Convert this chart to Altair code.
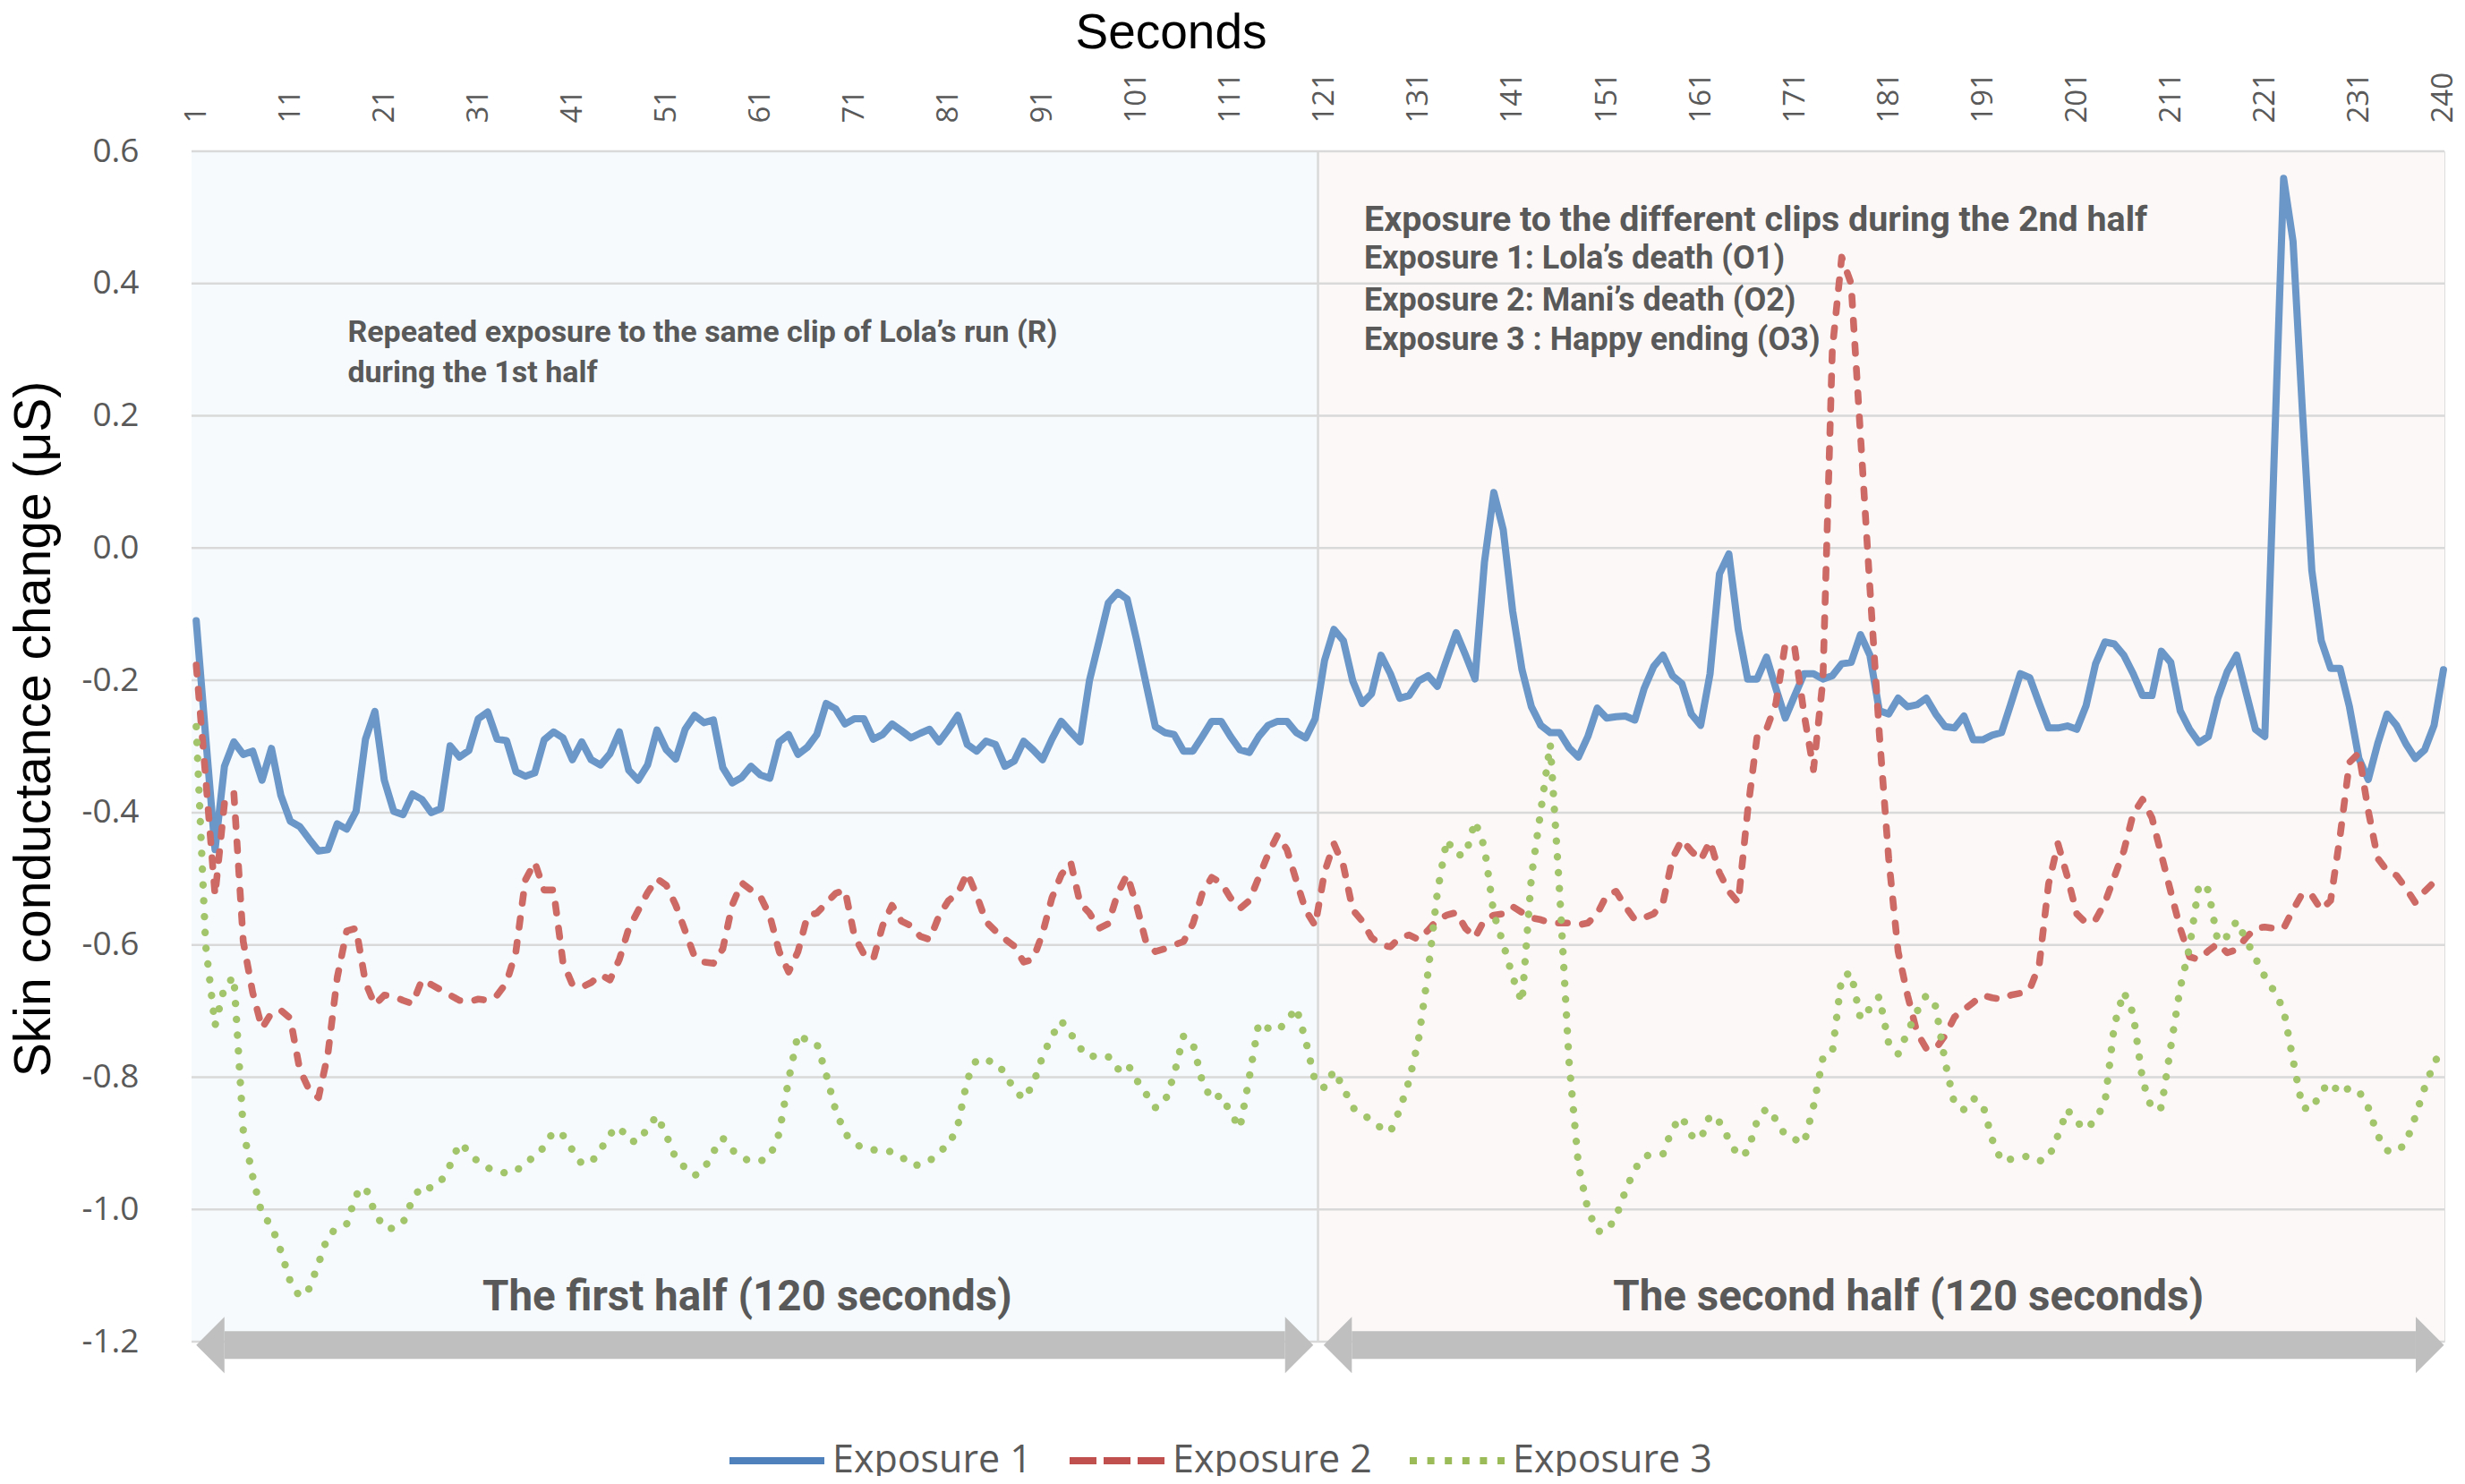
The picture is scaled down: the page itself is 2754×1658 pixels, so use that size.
import altair as alt
import pandas as pd

# ---------------- data ----------------
seconds = list(range(1, 241))

exposure_1 = [
    -0.11, -0.285, -0.456, -0.33, -0.293, -0.312, -0.307, -0.351, -0.303, -0.374,
    -0.413, -0.421, -0.44, -0.458, -0.456, -0.417, -0.425, -0.398, -0.289, -0.247,
    -0.351, -0.398, -0.403, -0.372, -0.38, -0.4, -0.394, -0.299, -0.316, -0.306,
    -0.258, -0.248, -0.289, -0.291, -0.338, -0.345, -0.34, -0.29, -0.278, -0.287,
    -0.32, -0.293, -0.32, -0.328, -0.311, -0.278, -0.336, -0.351, -0.328, -0.275,
    -0.305, -0.319, -0.274, -0.253, -0.264, -0.26, -0.332, -0.355, -0.347, -0.33,
    -0.343, -0.348, -0.293, -0.282, -0.312, -0.301, -0.282, -0.235, -0.243, -0.266,
    -0.258, -0.258, -0.289, -0.282, -0.266, -0.276, -0.287, -0.28, -0.274, -0.293,
    -0.274, -0.253, -0.297, -0.307, -0.292, -0.297, -0.33, -0.322, -0.292, -0.305,
    -0.32, -0.289, -0.262, -0.278, -0.293, -0.2, -0.142, -0.083, -0.067, -0.077,
    -0.138, -0.204, -0.27, -0.279, -0.282, -0.307, -0.307, -0.285, -0.262, -0.262,
    -0.285, -0.305, -0.309, -0.285, -0.268, -0.262, -0.262, -0.279, -0.287, -0.258,
    -0.17, -0.123, -0.14, -0.201, -0.235, -0.22, -0.162, -0.19, -0.227, -0.223,
    -0.201, -0.193, -0.209, -0.168, -0.128, -0.162, -0.198, -0.022, 0.084, 0.028,
    -0.095, -0.184, -0.24, -0.268, -0.279, -0.279, -0.302, -0.316, -0.285, -0.242,
    -0.257, -0.255, -0.254, -0.26, -0.212, -0.179, -0.162, -0.193, -0.205, -0.251,
    -0.268, -0.19, -0.039, -0.009, -0.123, -0.198, -0.198, -0.165, -0.212, -0.257,
    -0.223, -0.19, -0.19, -0.198, -0.193, -0.175, -0.173, -0.131, -0.162, -0.246,
    -0.251, -0.227, -0.24, -0.237, -0.227, -0.251, -0.27, -0.272, -0.254, -0.29,
    -0.29, -0.283, -0.279, -0.235, -0.19, -0.196, -0.235, -0.272, -0.272, -0.269,
    -0.274, -0.238, -0.175, -0.142, -0.145, -0.162, -0.19, -0.223, -0.223, -0.156,
    -0.173, -0.246, -0.274, -0.294, -0.285, -0.227, -0.187, -0.162, -0.218, -0.274,
    -0.285, 0.14, 0.559, 0.464, 0.207, -0.034, -0.14, -0.182, -0.182, -0.24,
    -0.318, -0.35, -0.296, -0.251, -0.268, -0.296, -0.318, -0.305, -0.268, -0.184,
]

exposure_2 = [
    -0.177, -0.347, -0.525, -0.386, -0.37, -0.595, -0.672, -0.726, -0.703, -0.699,
    -0.711, -0.788, -0.819, -0.831, -0.765, -0.649, -0.579, -0.575, -0.657, -0.691,
    -0.676, -0.678, -0.684, -0.689, -0.653, -0.66, -0.668, -0.676, -0.684, -0.686,
    -0.682, -0.684, -0.676, -0.657, -0.61, -0.502, -0.475, -0.517, -0.517, -0.626,
    -0.66, -0.664, -0.657, -0.645, -0.653, -0.622, -0.575, -0.548, -0.521, -0.5,
    -0.51, -0.54, -0.579, -0.618, -0.626, -0.628, -0.606, -0.54, -0.506, -0.517,
    -0.527, -0.556, -0.61, -0.641, -0.61, -0.556, -0.552, -0.537, -0.522, -0.517,
    -0.587, -0.614, -0.622, -0.571, -0.54, -0.564, -0.571, -0.587, -0.592, -0.556,
    -0.533, -0.522, -0.491, -0.525, -0.565, -0.579, -0.591, -0.602, -0.626, -0.622,
    -0.583, -0.529, -0.494, -0.475, -0.537, -0.552, -0.575, -0.568, -0.522, -0.494,
    -0.54, -0.595, -0.61, -0.606, -0.6, -0.595, -0.568, -0.522, -0.498, -0.506,
    -0.529, -0.545, -0.533, -0.498, -0.463, -0.434, -0.456, -0.503, -0.548, -0.571,
    -0.49, -0.447, -0.48, -0.547, -0.564, -0.589, -0.6, -0.603, -0.589, -0.585,
    -0.592, -0.578, -0.562, -0.555, -0.551, -0.575, -0.589, -0.562, -0.555, -0.553,
    -0.542, -0.551, -0.559, -0.562, -0.567, -0.567, -0.567, -0.57, -0.567, -0.553,
    -0.525, -0.519, -0.542, -0.562, -0.559, -0.553, -0.536, -0.469, -0.441, -0.458,
    -0.472, -0.443, -0.491, -0.519, -0.536, -0.397, -0.285, -0.274, -0.235, -0.145,
    -0.151, -0.251, -0.335, -0.2, 0.3, 0.44, 0.40, 0.17, -0.06, -0.28,
    -0.47, -0.61, -0.676, -0.732, -0.757, -0.757, -0.737, -0.709, -0.698, -0.687,
    -0.676, -0.68, -0.682, -0.676, -0.673, -0.667, -0.631, -0.508, -0.447, -0.497,
    -0.553, -0.567, -0.562, -0.536, -0.497, -0.458, -0.402, -0.38, -0.408, -0.464,
    -0.52, -0.575, -0.618, -0.622, -0.609, -0.598, -0.612, -0.607, -0.589, -0.575,
    -0.573, -0.575, -0.575, -0.547, -0.522, -0.525, -0.547, -0.533, -0.436, -0.324,
    -0.31, -0.397, -0.469, -0.488, -0.495, -0.514, -0.536, -0.519, -0.505, -0.502,
]

exposure_3 = [
    -0.27, -0.60, -0.722, -0.664, -0.648, -0.88, -0.95, -1.008, -1.024, -1.063,
    -1.109, -1.132, -1.12, -1.082, -1.04, -1.028, -1.022, -0.978, -0.966, -1.005,
    -1.028, -1.029, -1.02, -0.985, -0.964, -0.968, -0.958, -0.933, -0.9, -0.912,
    -0.929, -0.937, -0.943, -0.945, -0.943, -0.927, -0.922, -0.905, -0.882, -0.888,
    -0.91, -0.931, -0.929, -0.91, -0.886, -0.875, -0.896, -0.898, -0.877, -0.858,
    -0.888, -0.923, -0.937, -0.949, -0.939, -0.913, -0.892, -0.91, -0.922, -0.927,
    -0.927, -0.92, -0.885, -0.804, -0.735, -0.745, -0.749, -0.796, -0.85, -0.885,
    -0.9, -0.908, -0.91, -0.91, -0.913, -0.92, -0.933, -0.933, -0.927, -0.912,
    -0.904, -0.873, -0.804, -0.773, -0.775, -0.777, -0.794, -0.819, -0.833, -0.811,
    -0.769, -0.738, -0.715, -0.734, -0.756, -0.77, -0.766, -0.769, -0.788, -0.779,
    -0.804, -0.825, -0.846, -0.838, -0.796, -0.738, -0.749, -0.807, -0.834, -0.827,
    -0.854, -0.877, -0.8, -0.718, -0.726, -0.73, -0.715, -0.695, -0.745, -0.807,
    -0.816, -0.79, -0.816, -0.846, -0.857, -0.864, -0.877, -0.883, -0.849, -0.805,
    -0.743, -0.642, -0.52, -0.441, -0.464, -0.464, -0.413, -0.452, -0.553, -0.598,
    -0.648, -0.687, -0.497, -0.397, -0.296, -0.52, -0.776, -0.933, -1.0, -1.033,
    -1.033, -1.011, -0.972, -0.939, -0.92, -0.916, -0.916, -0.877, -0.86, -0.888,
    -0.894, -0.857, -0.868, -0.894, -0.92, -0.913, -0.866, -0.847, -0.864, -0.888,
    -0.894, -0.9, -0.844, -0.771, -0.763, -0.648, -0.642, -0.712, -0.696, -0.678,
    -0.749, -0.765, -0.732, -0.701, -0.676, -0.693, -0.777, -0.841, -0.849, -0.832,
    -0.841, -0.894, -0.927, -0.924, -0.92, -0.92, -0.927, -0.922, -0.888, -0.849,
    -0.868, -0.879, -0.864, -0.838, -0.721, -0.671, -0.704, -0.805, -0.849, -0.846,
    -0.754, -0.665, -0.603, -0.508, -0.517, -0.595, -0.587, -0.564, -0.592, -0.62,
    -0.648, -0.67, -0.698, -0.774, -0.846, -0.849, -0.821, -0.808, -0.825, -0.816,
    -0.821, -0.846, -0.888, -0.911, -0.913, -0.9, -0.86, -0.816, -0.779, -0.754,
]

series_names = ["Exposure 1", "Exposure 2", "Exposure 3"]
line_colors = ["#6A96C8", "#CD6A66", "#A2C46A"]
legend_colors = ["#4F81BD", "#C0504D", "#9BBB59"]

y_ticks = [-1.2, -1.0, -0.8, -0.6, -0.4, -0.2, 0.0, 0.2, 0.4, 0.6]
x_ticks = [1, 11, 21, 31, 41, 51, 61, 71, 81, 91, 101, 111, 121,
           131, 141, 151, 161, 171, 181, 191, 201, 211, 221, 231, 240]

# shaded halves of the session
half_start = [0.5, 120.3]
half_end = [120.3, 240.1]
half_fill = ["#F6FAFC", "#FBF8F7"]

# double arrows under the plot (tips, in seconds)
arrow_left_tip = [1.0, 120.9]
arrow_right_tip = [119.8, 240.05]
arrow_head_len = 3.0
arrow_center = -1.205
arrow_half_thick = 0.021

notes_left = [
    "Repeated exposure to the same clip of Lola\u2019s run (R)",
    "during the 1st half",
    "Exposure to the different clips during the 2nd half",
    "Exposure 1: Lola\u2019s death (O1)",
    "Exposure 2: Mani\u2019s death (O2)",
    "Exposure 3 : Happy ending (O3)",
]
notes_left_x = [17.1, 17.1, 125.2, 125.2, 125.2, 125.2]
notes_left_y = [0.325, 0.264, 0.496, 0.437, 0.374, 0.314]
notes_left_size = [34, 34, 39.4, 36, 36, 36]

notes_half = ["The first half (120 seconds)", "The second half (120 seconds)"]
notes_half_x = [59.6, 183.1]
notes_half_y = [-1.134, -1.134]

# ---------------- tables ----------------
df = pd.DataFrame({
    "Second": seconds * 3,
    "Value": exposure_1 + exposure_2 + exposure_3,
    "Series": [series_names[0]] * 240 + [series_names[1]] * 240 + [series_names[2]] * 240,
})
halves = pd.DataFrame({"s0": half_start, "s1": half_end, "fill": half_fill,
                       "top": [0.6, 0.6], "bottom": [-1.2, -1.2]})
grid = pd.DataFrame({"v": y_ticks})
divider = pd.DataFrame({"s": [half_end[0]], "top": [0.6], "bottom": [-1.2]})
shafts = pd.DataFrame({
    "a": [t + arrow_head_len for t in arrow_left_tip],
    "b": [t - arrow_head_len for t in arrow_right_tip],
    "lo": [arrow_center - arrow_half_thick] * 2,
    "hi": [arrow_center + arrow_half_thick] * 2,
})
heads_left = pd.DataFrame({"s": arrow_left_tip, "v": [arrow_center] * 2})
heads_right = pd.DataFrame({"s": arrow_right_tip, "v": [arrow_center] * 2})
notes_l = pd.DataFrame({"t": notes_left, "s": notes_left_x, "v": notes_left_y,
                        "fs": notes_left_size})
notes_h = pd.DataFrame({"t": notes_half, "s": notes_half_x, "v": notes_half_y})

# ---------------- layout ----------------
W, H = 2517, 1330
GRAY = "#595959"
NOTE_FONT = "Roboto, Liberation Sans, sans-serif"
xscale = alt.Scale(domain=[0.5, 240.1], nice=False, zero=False)
yscale = alt.Scale(domain=[-1.2, 0.6], nice=False, zero=False)

x_axis = alt.Axis(
    orient="top", values=x_ticks, format="d", title="Seconds",
    labelAngle=270, labelAlign="left", labelBaseline="middle",
    labelPadding=32, labelFont="Open Sans", labelFontSize=33, labelColor=GRAY,
    ticks=False, tickSize=0, domain=False, grid=False, labelOverlap=False,
    titleFont="Liberation Sans", titleFontSize=55, titleFontWeight="normal",
    titleColor="#000000", titleX=1094, titleY=-116, titleAlign="center",
    titleBaseline="alphabetic",
)
y_axis = alt.Axis(
    orient="left", values=y_ticks,
    labelExpr="(datum.value < 0 ? '-' : '') + format(abs(datum.value), '.1f')",
    labelPadding=59, labelAlign="right", labelBaseline="middle",
    labelFont="Open Sans", labelFontSize=37, labelColor=GRAY,
    ticks=False, tickSize=0, domain=False, grid=False,
    title="Skin conductance change (\u03bcS)", titleFont="Liberation Sans",
    titleFontSize=57, titleFontWeight="normal", titleColor="#000000",
    titleAngle=270, titleX=-176, titleY=645, titleAlign="center",
    titleBaseline="middle",
)

X = lambda f: alt.X(f, type="quantitative", scale=xscale, axis=x_axis)
Y = lambda f: alt.Y(f, type="quantitative", scale=yscale, axis=y_axis)

bg = alt.Chart(halves).mark_rect().encode(
    x=X("s0"), x2="s1", y=Y("top"), y2="bottom",
    fill=alt.Fill("fill:N", scale=None),
)
grid_rules = alt.Chart(grid).mark_rule(color="#D9D9D9", strokeWidth=2.5).encode(
    y=Y("v"), x=alt.value(0), x2=alt.value(W),
)
divider_rule = alt.Chart(divider).mark_rule(color="#D9D9D9", strokeWidth=2.5).encode(
    x=X("s"), y=Y("top"), y2="bottom",
)
shaft = alt.Chart(shafts).mark_rect(color="#BFBFBF").encode(
    x=X("a"), x2="b", y=Y("lo"), y2="hi",
)
head_l = alt.Chart(heads_left).mark_point(
    shape="M0,0L1,-1L1,1Z", size=3969, filled=True, color="#BFBFBF",
    opacity=1, strokeWidth=0,
).encode(x=X("s"), y=Y("v"))
head_r = alt.Chart(heads_right).mark_point(
    shape="M0,0L-1,-1L-1,1Z", size=3969, filled=True, color="#BFBFBF",
    opacity=1, strokeWidth=0,
).encode(x=X("s"), y=Y("v"))

text_l = alt.Chart(notes_l).mark_text(
    align="left", baseline="middle", font=NOTE_FONT,
    fontWeight="bold", color=GRAY,
).encode(x=X("s"), y=Y("v"), text="t:N", size=alt.Size("fs:Q", scale=None))
text_h = alt.Chart(notes_h).mark_text(
    align="center", baseline="middle", font=NOTE_FONT,
    fontWeight="bold", fontSize=47.5, color=GRAY,
).encode(x=X("s"), y=Y("v"), text="t:N")

line_styles = [
    dict(color=line_colors[0], strokeWidth=8),
    dict(color=line_colors[1], strokeWidth=7.6, strokeDash=[10, 17]),
    dict(color=line_colors[2], strokeWidth=8.3, strokeDash=[0.1, 17.6]),
]
lines = [
    alt.Chart(df).transform_filter(alt.datum.Series == name).mark_line(
        strokeCap="round", strokeJoin="round", **style
    ).encode(x=X("Second"), y=Y("Value"))
    for name, style in zip(series_names, line_styles)
]

leg = alt.Legend(
    title=None, orient="none", legendX=597, legendY=1406, direction="horizontal",
    symbolType="stroke", symbolSize=11236, symbolStrokeWidth=8, symbolOpacity=1,
    labelFont="Open Sans", labelFontSize=43, labelColor=GRAY, labelOffset=5,
    columnPadding=26, padding=0, labelLimit=400,
)
legend_layer = alt.Chart(df).mark_line(opacity=0).encode(
    x=X("Second"), y=Y("Value"),
    color=alt.Color("Series:N", scale=alt.Scale(domain=series_names, range=legend_colors), legend=leg),
    strokeDash=alt.StrokeDash("Series:N", scale=alt.Scale(
        domain=series_names, range=[[1, 0], [30, 8], [8, 11.6]]), legend=leg),
)

chart = alt.layer(
    bg, grid_rules, divider_rule, shaft, head_l, head_r, text_l, text_h,
    *lines, legend_layer,
).properties(
    width=W, height=H,
    autosize=alt.AutoSizeParams(type="none"),
    padding={"left": 206, "top": 161, "right": 15, "bottom": 150},
).configure_view(
    stroke="#D9D9D9", strokeWidth=2.5,
).configure(background="#FFFFFF")

chart.save("out.html", embed_options={"renderer": "svg", "actions": False})
